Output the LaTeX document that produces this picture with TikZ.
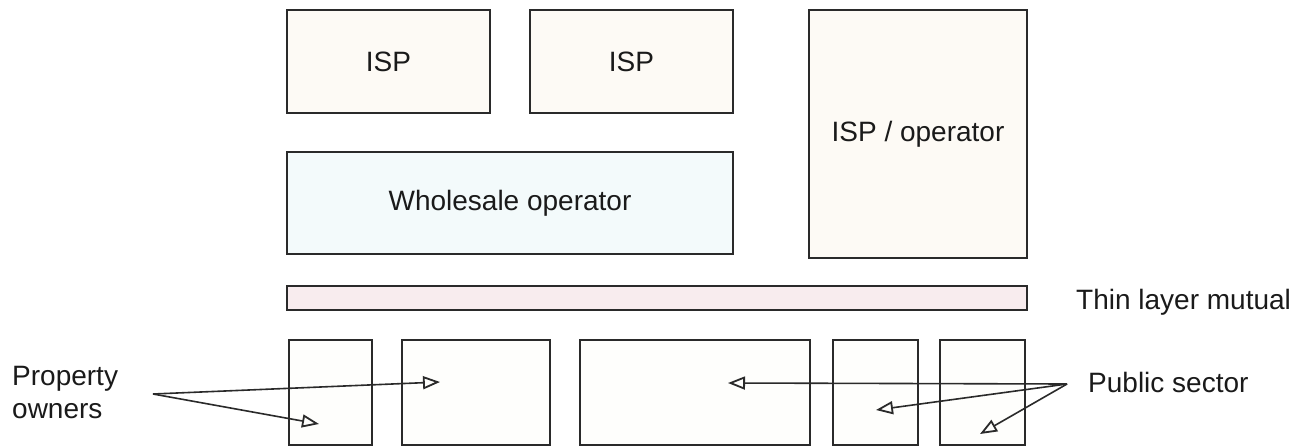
\documentclass[tikz,border=0pt]{standalone}
\usepackage{fontspec}
\setmainfont{Liberation Sans}
\usetikzlibrary{arrows.meta}
\definecolor{ispfill}{HTML}{FDFAF5}
\definecolor{wholefill}{HTML}{F3FAFB}
\definecolor{thinfill}{HTML}{F8ECEE}
\definecolor{botfill}{HTML}{FEFEFC}
\definecolor{ink}{HTML}{2A2A2A}
\definecolor{txt}{HTML}{1A1A1A}
\tikzset{
  box/.style={draw=ink, line width=1.8pt, anchor=north west, inner sep=0pt, outer sep=0pt, text=txt, font=\fontsize{28}{33}\selectfont},
  lbl/.style={anchor=west, inner sep=0pt, text=txt, font=\fontsize{28}{33}\selectfont, align=left},
  conn/.style={draw=ink, line width=1.6pt, -{Triangle[open, length=17pt, width=13pt, line width=1.8pt]}}
}
\begin{document}
\begin{tikzpicture}[x=1pt, y=-1pt]
\useasboundingbox (0,0) rectangle (1301,447);
% top layer
\node[box, fill=ispfill, minimum width=203pt, minimum height=103pt] (isp1) at (287,10) {ISP};
\node[box, fill=ispfill, minimum width=203pt, minimum height=103pt] (isp2) at (530,10) {ISP};
\node[box, fill=wholefill, minimum width=446pt, minimum height=102pt] (whole) at (287,152) {Wholesale operator};
\node[box, fill=ispfill, minimum width=218pt, minimum height=248pt] (ispop) at (809,10) {ISP / operator};
% thin layer
\node[box, fill=thinfill, line width=1.4pt, minimum width=740pt, minimum height=24pt] (thin) at (287,286) {};
\node[lbl] (thinlbl) at (1076,302) {Thin layer mutual};
% bottom boxes
\node[box, fill=botfill, minimum width=83pt, minimum height=105pt] (b1) at (289,340) {};
\node[box, fill=botfill, minimum width=148pt, minimum height=105pt] (b2) at (402,340) {};
\node[box, fill=botfill, minimum width=230pt, minimum height=105pt] (b3) at (580,340) {};
\node[box, fill=botfill, minimum width=85pt, minimum height=105pt] (b4) at (833,340) {};
\node[box, fill=botfill, minimum width=85pt, minimum height=105pt] (b5) at (940,340) {};
% labels
\node[lbl] (prop) at (12,392) {Property\\owners};
\node[lbl] (pub) at (1088,382) {Public sector};
% arrow coordinates
\coordinate (po) at (153,394);
\coordinate (t1) at (440,382);
\coordinate (t2) at (319,424);
\coordinate (ps) at (1067,384);
\coordinate (t3) at (728,383);
\coordinate (t4) at (876,410);
\coordinate (t5) at (980,434);
\draw[conn] (po) -- (t1);
\draw[conn] (po) -- (t2);
\draw[conn] (ps) -- (t3);
\draw[conn] (ps) -- (t4);
\draw[conn] (ps) -- (t5);
\end{tikzpicture}
\end{document}
